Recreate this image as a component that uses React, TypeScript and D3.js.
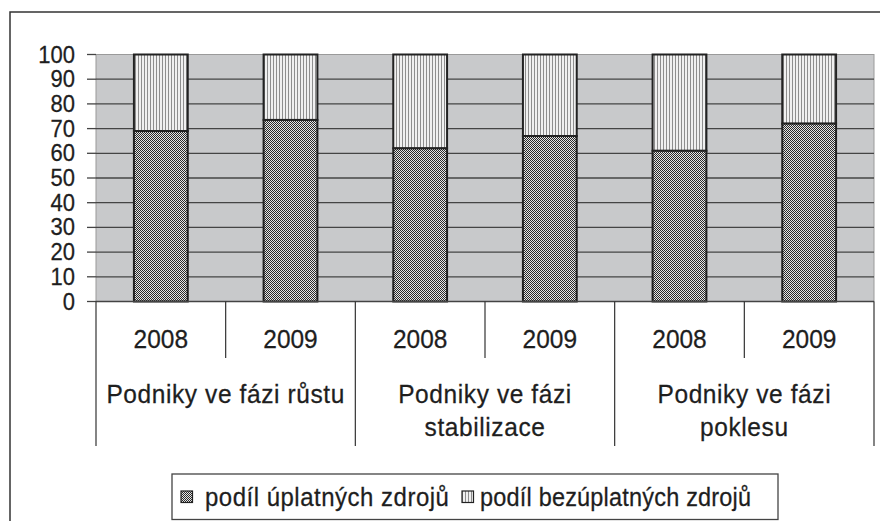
import React from "react";
import * as d3 from "d3";

const years = ["2008", "2009", "2008", "2009", "2008", "2009"];
const groupLabels = [
  ["Podniky ve fázi růstu"],
  ["Podniky ve fázi", "stabilizace"],
  ["Podniky ve fázi", "poklesu"],
];
const paidShare = [69, 73.5, 62, 67, 61, 72];
const freeShare = [31, 26.5, 38, 33, 39, 28];
const seriesNames = ["podíl úplatných zdrojů", "podíl bezúplatných zdrojů"];
const yTicks = [0, 10, 20, 30, 40, 50, 60, 70, 80, 90, 100];

const W = 880;
const H = 521;
const PL = 96;
const PR = 874;
const PT = 54.5;
const PB = 301.5;
const FONT = "'Liberation Sans', Arial, Helvetica, sans-serif";
const TXT = "#1e1e1e";

export default function App() {
  const idx = years.map((_, i) => i);
  const x = d3.scaleBand<number>().domain(idx).range([PL, PR]).padding(0);
  const y = d3.scaleLinear().domain([0, 100]).range([PB, PT]);
  const bw = x.bandwidth();
  const barW = bw * 0.415;
  const groupW = bw * 2;

  const stacked = idx.map((i) => ({
    i,
    paid: [0, paidShare[i]],
    free: [paidShare[i], paidShare[i] + freeShare[i]],
  }));

  const textT = (tx: number, ty: number, sy = 1.08) =>
    `translate(${tx},${ty}) scale(1,${sy})`;

  return (
    <svg
      width={W}
      height={H}
      style={{ position: "fixed", left: 0, top: 0, background: "#fff" }}
      fontFamily={FONT}
    >
      <defs>
        <pattern id="pPaid" width={2} height={2} patternUnits="userSpaceOnUse">
          <rect width={2} height={2} fill="#e6e6e6" />
          <rect x={0} y={0} width={1} height={1} fill="#2a2a2a" />
          <rect x={1} y={1} width={1} height={1} fill="#2a2a2a" />
        </pattern>
        <pattern id="pFree" width={3} height={3} patternUnits="userSpaceOnUse">
          <rect width={3} height={3} fill="#f0f0f0" />
          <rect x={0} y={0} width={1} height={3} fill="#8e8e8e" />
        </pattern>
      </defs>

      {/* outer frame */}
      <rect x={10} y={12} width={900} height={600} fill="none" stroke="#333" strokeWidth={1.5} />

      {/* plot background */}
      <rect x={PL} y={PT} width={PR - PL} height={PB - PT} fill="#c8c9cb" stroke="#9a9a9a" strokeWidth={1} />

      {/* gridlines */}
      {yTicks.filter((t) => t > 0 && t < 100).map((t) => (
        <line key={"g" + t} x1={PL} x2={PR} y1={y(t)} y2={y(t)} stroke="#444" strokeWidth={1.3} />
      ))}

      {/* y ticks and labels */}
      {yTicks.map((t) => (
        <g key={"t" + t}>
          <line x1={87} x2={PL} y1={y(t)} y2={y(t)} stroke="#444" strokeWidth={1.3} />
          <text
            transform={textT(75, y(t) + 8)}
            textAnchor="end"
            fontSize={22}
            fill={TXT}
            stroke={TXT}
            strokeWidth={0.25}
          >
            {t}
          </text>
        </g>
      ))}

      {/* bars */}
      {stacked.map((d) => {
        const bx = (x(d.i) as number) + (bw - barW) / 2;
        return (
          <g key={"b" + d.i}>
            <rect
              x={bx}
              y={y(d.free[1])}
              width={barW}
              height={y(d.free[0]) - y(d.free[1])}
              fill="url(#pFree)"
              stroke="#222"
              strokeWidth={2}
            />
            <rect
              x={bx}
              y={y(d.paid[1])}
              width={barW}
              height={y(d.paid[0]) - y(d.paid[1])}
              fill="url(#pPaid)"
              stroke="#222"
              strokeWidth={2}
            />
          </g>
        );
      })}

      {/* baseline */}
      <line x1={PL} x2={PR} y1={PB} y2={PB} stroke="#444" strokeWidth={1.5} />

      {/* category separators */}
      {d3.range(years.length + 1).map((k) => {
        const xx = PL + k * bw;
        const long = k % 2 === 0;
        return (
          <line
            key={"s" + k}
            x1={xx}
            x2={xx}
            y1={PB}
            y2={long ? 446 : 358}
            stroke="#333"
            strokeWidth={1.2}
          />
        );
      })}

      {/* year labels */}
      {years.map((yr, i) => (
        <text
          key={"y" + i}
          transform={textT((x(i) as number) + bw / 2, 347.5)}
          textAnchor="middle"
          fontSize={24.5}
          fill={TXT}
          stroke={TXT}
          strokeWidth={0.25}
        >
          {yr}
        </text>
      ))}

      {/* group labels */}
      {groupLabels.map((lines, g) =>
        lines.map((ln, j) => (
          <text
            key={"gl" + g + "-" + j}
            transform={textT(PL + g * groupW + groupW / 2, 402.5 + j * 33.5)}
            textAnchor="middle"
            fontSize={24.5}
            letterSpacing={0.6}
            fill={TXT}
            stroke={TXT}
            strokeWidth={0.25}
          >
            {ln}
          </text>
        ))
      )}

      {/* legend */}
      <rect x={172} y={474} width={606} height={45.5} fill="#fff" stroke="#444" strokeWidth={1.3} />
      <rect x={181} y={491} width={11.5} height={11.5} fill="url(#pPaid)" stroke="#222" strokeWidth={1.2} />
      <text transform={textT(205, 505.5)} fontSize={24} letterSpacing={0.5} fill={TXT} stroke={TXT} strokeWidth={0.25}>
        {seriesNames[0]}
      </text>
      <rect x={462} y={491} width={11.5} height={11.5} fill="url(#pFree)" stroke="#222" strokeWidth={1.2} />
      <text transform={textT(480, 505.5)} fontSize={23.5} letterSpacing={0.2} fill={TXT} stroke={TXT} strokeWidth={0.25}>
        {seriesNames[1]}
      </text>
    </svg>
  );
}
